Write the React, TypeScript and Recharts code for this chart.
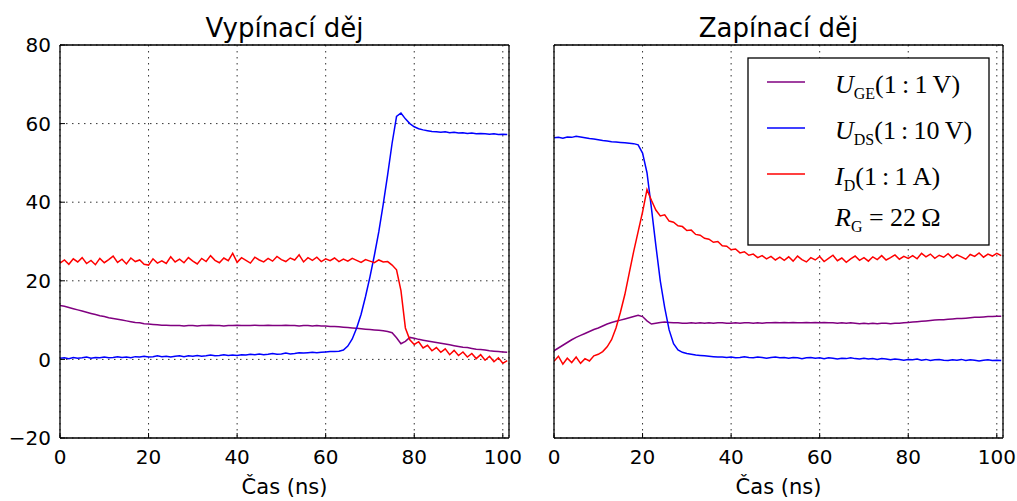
import { LineChart, Line, XAxis, YAxis, CartesianGrid } from 'recharts'

// time axis shared by both panels (ns)
const timeNs = [
  0, 1, 2, 3, 4, 5, 6, 7, 8, 9,
  10, 11, 12, 13, 14, 15, 16, 17, 18, 19,
  20, 21, 22, 23, 24, 25, 26, 27, 28, 29,
  30, 31, 32, 33, 34, 35, 36, 37, 38, 39,
  40, 41, 42, 43, 44, 45, 46, 47, 48, 49,
  50, 51, 52, 53, 54, 55, 56, 57, 58, 59,
  60, 61, 62, 63, 64, 65, 66, 67, 68, 69,
  70, 71, 72, 73, 74, 75, 76, 77, 78, 79,
  80, 81, 82, 83, 84, 85, 86, 87, 88, 89,
  90, 91, 92, 93, 94, 95, 96, 97, 98, 99,
  100, 101,
]

// Vypínací děj (turn-off)
const ugeOff = [
  13.7, 13.5, 13.2, 12.9, 12.6, 12.3, 12.0, 11.7, 11.4, 11.1,
  10.9, 10.6, 10.4, 10.2, 10.0, 9.8, 9.6, 9.4, 9.3, 9.1,
  9.0, 8.9, 8.8, 8.7, 8.7, 8.6, 8.6, 8.6, 8.5, 8.6,
  8.6, 8.5, 8.6, 8.6, 8.7, 8.6, 8.6, 8.5, 8.6, 8.6,
  8.7, 8.6, 8.6, 8.6, 8.7, 8.6, 8.6, 8.7, 8.6, 8.6,
  8.6, 8.7, 8.6, 8.6, 8.5, 8.6, 8.6, 8.5, 8.6, 8.5,
  8.5, 8.4, 8.4, 8.3, 8.2, 8.1, 8.0, 7.9, 7.8, 7.7,
  7.6, 7.5, 7.4, 7.3, 7.1, 6.8, 5.5, 4.0, 4.6, 5.6,
  5.4, 5.1, 4.9, 4.7, 4.5, 4.3, 4.1, 3.9, 3.7, 3.5,
  3.3, 3.1, 3.0, 2.8, 2.6, 2.5, 2.4, 2.2, 2.1, 2.0,
  1.9, 1.8,
]
const udsOff = [
  0.3, 0.4, 0.2, 0.5, 0.3, 0.4, 0.6, 0.3, 0.5, 0.4,
  0.6, 0.4, 0.5, 0.7, 0.5, 0.6, 0.4, 0.7, 0.6, 0.8,
  0.6, 0.7, 0.9, 0.7, 0.8, 0.6, 0.8, 0.9, 0.7, 0.9,
  0.8, 1.0, 0.8, 0.9, 1.1, 0.9, 1.0, 1.2, 1.0, 1.1,
  1.0, 1.2, 1.1, 1.3, 1.2, 1.4, 1.2, 1.3, 1.5, 1.3,
  1.4, 1.6, 1.4, 1.5, 1.7, 1.6, 1.7, 1.8, 1.7, 1.8,
  1.9, 2.0, 2.0, 2.1, 2.4, 3.4, 5.2, 8.0, 11.5, 16.0,
  21.0, 26.5, 32.5, 39.5, 47.0, 55.0, 61.8, 62.7, 61.2, 60.0,
  59.2, 58.7, 58.4, 58.2, 58.0, 57.9, 57.8, 57.9, 57.7, 57.8,
  57.6, 57.7, 57.5, 57.6, 57.4, 57.5, 57.4, 57.3, 57.4, 57.2,
  57.3, 57.2,
]
const idOff = [
  24.5, 25.3, 24.2, 25.6, 24.8, 25.9, 24.4, 25.2, 24.1, 25.7,
  24.6, 25.4, 26.3, 24.7, 25.5, 24.3, 25.8, 24.9, 25.3, 24.2,
  24.0, 25.6, 24.5, 25.1, 24.4, 26.1, 24.8, 25.5, 24.6, 25.9,
  25.0, 24.3, 25.7, 24.9, 26.4, 25.2, 24.6, 25.8, 25.1, 27.0,
  24.7, 25.9, 25.2, 24.5, 26.0, 25.3, 24.8, 25.7, 25.0, 26.2,
  25.4, 24.9, 25.8, 25.3, 26.6, 24.8, 25.9, 25.2, 26.0, 24.9,
  25.6, 25.1, 25.8, 24.9, 25.5, 25.0, 25.7, 25.2, 24.7, 25.4,
  25.0, 24.6, 25.3, 24.8, 24.9, 24.0, 22.8, 17.5, 8.0, 5.0,
  3.8, 4.5, 2.9, 3.6, 2.2, 3.0, 1.8, 2.7, 1.2, 2.3,
  1.0, 1.9, 0.6, 1.5, 0.2, 1.2, -0.2, 0.8, -0.6, 0.4,
  -1.0, -0.3,
]

// Zapínací děj (turn-on)
const ugeOn = [
  2.2, 2.9, 3.6, 4.3, 5.0, 5.6, 6.1, 6.6, 7.1, 7.6,
  8.0, 8.5, 9.0, 9.4, 9.7, 10.0, 10.3, 10.6, 10.9, 11.2,
  10.9, 9.8, 9.0, 9.2, 9.4, 9.5, 9.4, 9.3, 9.3, 9.2,
  9.2, 9.3, 9.2, 9.3, 9.2, 9.3, 9.2, 9.3, 9.3, 9.2,
  9.2, 9.3, 9.2, 9.3, 9.3, 9.2, 9.3, 9.2, 9.3, 9.3,
  9.4, 9.3, 9.4, 9.3, 9.4, 9.3, 9.3, 9.4, 9.3, 9.4,
  9.3, 9.4, 9.3, 9.3, 9.2, 9.3, 9.2, 9.3, 9.2, 9.1,
  9.2, 9.1, 9.2, 9.1, 9.2, 9.2, 9.1, 9.2, 9.2, 9.3,
  9.4, 9.5, 9.6, 9.7, 9.8, 9.9, 10.0, 10.1, 10.1, 10.2,
  10.3, 10.4, 10.4, 10.5, 10.6, 10.7, 10.7, 10.8, 10.9, 10.9,
  11.0, 11.0,
]
const udsOn = [
  56.4, 56.5, 56.3, 56.6, 56.5, 56.8, 56.6, 56.4, 56.2, 56.1,
  55.9, 55.7, 55.6, 55.4, 55.3, 55.2, 55.1, 55.0, 54.9, 54.6,
  52.5, 47.5, 38.5, 29.0, 20.0, 13.2, 7.5, 4.0, 2.4, 1.8,
  1.5, 1.3, 1.1, 1.0, 0.9, 0.8, 0.7, 0.6, 0.6, 0.5,
  0.6, 0.4, 0.5, 0.7, 0.5, 0.4, 0.6, 0.5, 0.3, 0.5,
  0.6, 0.4, 0.5, 0.3, 0.5, 0.4, 0.2, 0.4, 0.5, 0.3,
  0.4, 0.2, 0.4, 0.3, 0.1, 0.3, 0.2, 0.4, 0.2, 0.1,
  0.3, 0.1, 0.2, 0.0, 0.2, 0.1, -0.1, 0.1, 0.0, -0.2,
  0.0, -0.1, 0.1, -0.2, 0.0, -0.3, -0.1, 0.0, -0.2, -0.3,
  -0.1, -0.2, 0.0, -0.3, -0.1, -0.2, -0.4, -0.2, -0.1, -0.3,
  -0.2, -0.3,
]
const idOn = [
  -0.5, 0.8, -1.2, 0.3, -0.8, 0.6, -1.0, 0.2, -0.4, 0.9,
  1.3, 2.0, 3.2, 5.0, 8.0, 12.0, 16.5, 22.0, 27.5, 32.5,
  37.5, 43.2, 40.5, 38.0, 36.5, 36.8, 35.2, 34.9, 34.0, 33.8,
  32.8, 32.9, 31.8, 31.6, 30.8, 30.6, 29.8, 30.0, 28.9, 28.8,
  27.9, 28.1, 27.1, 27.4, 26.5, 26.8, 25.9, 26.4, 25.6, 26.2,
  25.3, 26.0, 25.2, 26.1, 25.0, 26.3, 25.4, 24.8, 25.9, 25.3,
  26.2, 24.9, 25.7, 26.5, 25.1, 25.8, 24.7, 25.6, 26.3, 25.2,
  25.9, 25.0, 26.1, 25.4, 26.4, 25.3, 25.9, 26.6, 25.5, 26.2,
  25.7, 26.4, 25.6, 27.0, 26.1, 26.8, 25.7, 26.5, 26.0, 26.9,
  25.8, 26.6, 26.1, 25.5, 26.7, 26.2, 27.1, 26.0, 26.8, 26.3,
  27.0, 26.4,
]

const xTicks = [0, 20, 40, 60, 80, 100]
const yTicks = [-20, 0, 20, 40, 60, 80]
const titles = ['Vypínací děj', 'Zapínací děj']
const xLabel = 'Čas (ns)'

const colors = { uge: '#800080', uds: '#0000ff', id: '#ff0000' }
const font = '"DejaVu Sans", sans-serif'
const mathFont = '"Liberation Serif", "DejaVu Serif", serif'

const offData = timeNs.map((t, i) => ({ t, uge: ugeOff[i], uds: udsOff[i], id: idOff[i] }))
const onData = timeNs.map((t, i) => ({ t, uge: ugeOn[i], uds: udsOn[i], id: idOn[i] }))

const fmt = (v: number) => (v < 0 ? '\u2212' + Math.abs(v) : String(v))

function BottomTick(props: any) {
  const { x, y, payload } = props
  return (
    <text x={x} y={y + 31} textAnchor="middle" fontSize={20} fill="#000" fontFamily={font}>
      {fmt(payload.value)}
    </text>
  )
}

function LeftTick(props: any) {
  const { x, y, payload } = props
  return (
    <text x={x - 14} y={y} dy="0.36em" textAnchor="end" fontSize={20} fill="#000" fontFamily={font}>
      {fmt(payload.value)}
    </text>
  )
}

const axisLine = { stroke: '#000', strokeWidth: 1.3 }
const tickLine = { stroke: '#000', strokeWidth: 1 }

function panel(data: any[], width: number, margin: any, showY: boolean) {
  return (
    <LineChart width={width} height={501} data={data} margin={margin}>
      <CartesianGrid xAxisId="b" yAxisId="l" stroke="#333" strokeDasharray="1.5 4.5" strokeWidth={1} />
      <XAxis
        xAxisId="b"
        dataKey="t"
        type="number"
        domain={[0, 101.4]}
        allowDataOverflow
        ticks={xTicks}
        interval={0}
        orientation="bottom"
        mirror
        height={1}
        tickSize={5}
        tickMargin={0}
        axisLine={axisLine}
        tickLine={tickLine}
        tick={BottomTick}
      />
      <XAxis
        xAxisId="t"
        dataKey="t"
        type="number"
        domain={[0, 101.4]}
        allowDataOverflow
        ticks={xTicks}
        interval={0}
        orientation="top"
        mirror
        height={1}
        tickSize={5}
        axisLine={axisLine}
        tickLine={tickLine}
        tick={false}
      />
      <YAxis
        yAxisId="l"
        type="number"
        domain={[-20, 80]}
        allowDataOverflow
        ticks={yTicks}
        interval={0}
        orientation="left"
        mirror
        width={1}
        tickSize={5}
        tickMargin={0}
        axisLine={axisLine}
        tickLine={tickLine}
        tick={showY ? LeftTick : false}
      />
      <YAxis
        yAxisId="r"
        type="number"
        domain={[-20, 80]}
        allowDataOverflow
        ticks={yTicks}
        interval={0}
        orientation="right"
        mirror
        width={1}
        tickSize={5}
        axisLine={axisLine}
        tickLine={tickLine}
        tick={false}
      />
      <Line xAxisId="b" yAxisId="l" dataKey="uge" stroke={colors.uge} strokeWidth={1.5} dot={false} isAnimationActive={false} type="linear" />
      <Line xAxisId="b" yAxisId="l" dataKey="uds" stroke={colors.uds} strokeWidth={1.5} dot={false} isAnimationActive={false} type="linear" />
      <Line xAxisId="b" yAxisId="l" dataKey="id" stroke={colors.id} strokeWidth={1.5} dot={false} isAnimationActive={false} type="linear" />
    </LineChart>
  )
}

const thin = '\u2009'

export default function App() {
  return (
    <div style={{ position: 'absolute', left: 0, top: 0, width: 1017, height: 501, background: '#fff' }}>
      <div style={{ position: 'absolute', left: 0, top: 0 }}>
        {panel(offData, 540, { top: 45, right: 31, bottom: 63, left: 60 }, true)}
      </div>
      <div style={{ position: 'absolute', left: 520, top: 0 }}>
        {panel(onData, 497, { top: 45, right: 14, bottom: 63, left: 34 }, false)}
      </div>
      <svg width={1017} height={501} style={{ position: 'absolute', left: 0, top: 0, pointerEvents: 'none' }}>
        <text x={284.5} y={37} textAnchor="middle" fontSize={26} fontFamily={font} fill="#000">{titles[0]}</text>
        <text x={778.5} y={37} textAnchor="middle" fontSize={26} fontFamily={font} fill="#000">{titles[1]}</text>
        <text x={284.5} y={494} textAnchor="middle" fontSize={21} fontFamily={font} fill="#000">{xLabel}</text>
        <text x={778.5} y={494} textAnchor="middle" fontSize={21} fontFamily={font} fill="#000">{xLabel}</text>

        <rect x={748} y={58} width={241} height={187} fill="#fff" stroke="#000" strokeWidth={1.3} />
        <line x1={767} x2={805} y1={82} y2={82} stroke={colors.uge} strokeWidth={1.5} />
        <line x1={767} x2={805} y1={128} y2={128} stroke={colors.uds} strokeWidth={1.5} />
        <line x1={767} x2={805} y1={174} y2={174} stroke={colors.id} strokeWidth={1.5} />
        <text x={835} y={93} fontSize={26} fontFamily={mathFont} fill="#000">
          <tspan fontStyle="italic">U</tspan>
          <tspan fontSize={16} dy={6}>GE</tspan>
          <tspan dy={-6}>{`(1${thin}:${thin}1${thin}V)`}</tspan>
        </text>
        <text x={835} y={139} fontSize={26} fontFamily={mathFont} fill="#000">
          <tspan fontStyle="italic">U</tspan>
          <tspan fontSize={16} dy={6}>DS</tspan>
          <tspan dy={-6}>{`(1${thin}:${thin}10${thin}V)`}</tspan>
        </text>
        <text x={835} y={185} fontSize={26} fontFamily={mathFont} fill="#000">
          <tspan fontStyle="italic">I</tspan>
          <tspan fontSize={16} dy={6}>D</tspan>
          <tspan dy={-6}>{`(1${thin}:${thin}1${thin}A)`}</tspan>
        </text>
        <text x={835} y={226} fontSize={26} fontFamily={mathFont} fill="#000">
          <tspan fontStyle="italic">R</tspan>
          <tspan fontSize={16} dy={6}>G</tspan>
          <tspan dy={-6}>{` = 22${thin}Ω`}</tspan>
        </text>
      </svg>
    </div>
  )
}
